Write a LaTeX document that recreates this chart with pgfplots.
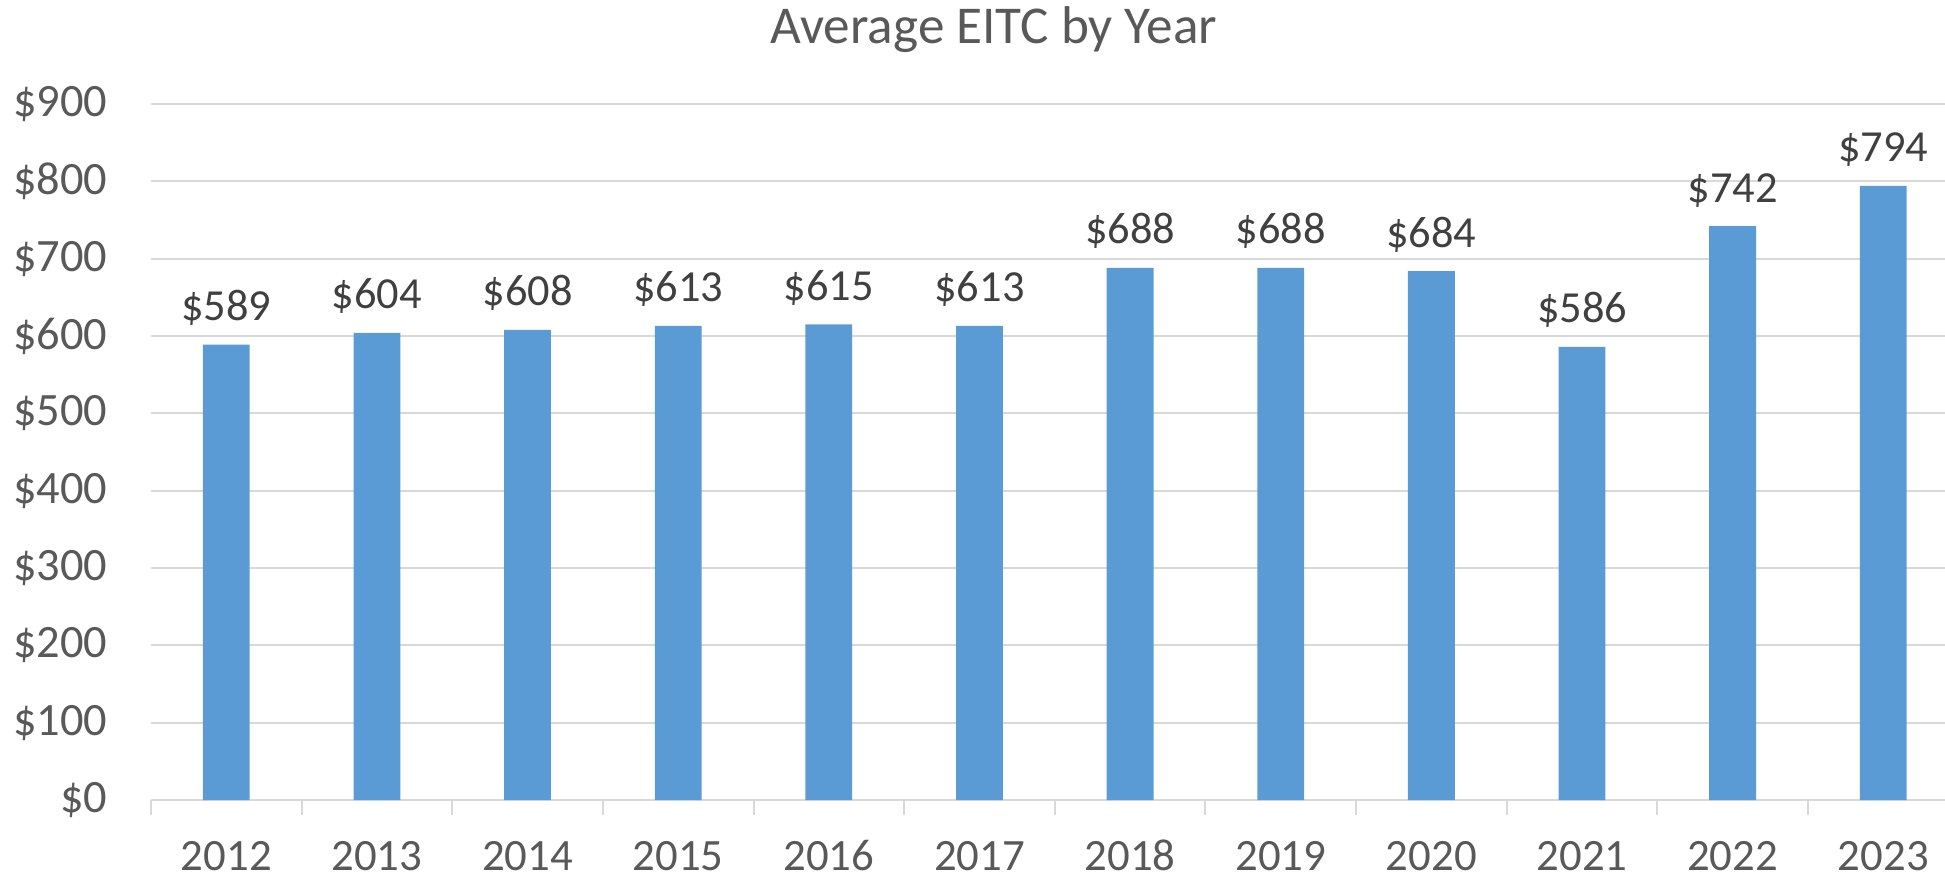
\documentclass[border=0pt]{standalone}
\usepackage{fontspec}
\setmainfont{Carlito}
\usepackage{pgfplots}
\pgfplotsset{compat=1.18}
\definecolor{barblue}{HTML}{5B9BD5}
\definecolor{gridc}{HTML}{D9D9D9}
\definecolor{ticktext}{HTML}{595959}
\definecolor{labtext}{HTML}{404040}

\begin{document}
\begin{tikzpicture}
  \path[use as bounding box] (-37.75pt,-19.5pt) rectangle (448.5pt,200pt);
  \begin{axis}[
      at={(0,0)}, anchor=south west,
      scale only axis,
      width=448.5pt, height=174pt,
      ybar, bar width=11.7pt, bar shift=0pt,
      xmin=-0.5, xmax=11.41,
      ymin=0, ymax=900,
      xtick={0,...,11},
      xticklabels={2012,2013,2014,2015,2016,2017,2018,2019,2020,2021,2022,2023},
      ytick={0,100,...,900},
      yticklabels={\$0,\$100,\$200,\$300,\$400,\$500,\$600,\$700,\$800,\$900},
      major tick length=0pt,
      tick align=outside,
      xtick pos=bottom, ytick pos=left,
      extra x ticks={-0.5,0.5,...,10.5},
      extra x tick labels={},
      extra x tick style={major tick length=3.75pt, grid=none,
        major tick style={draw=gridc, line width=0.5pt}},
      ymajorgrids,
      grid style={draw=gridc, line width=0.5pt},
      axis line style={draw=none},
      xticklabel style={anchor=base, yshift=-17.6pt, inner sep=0pt,
        font=\fontsize{11.2}{13}\selectfont, text=ticktext},
      yticklabel style={anchor=east, xshift=-10.75pt, inner sep=0pt,
        font=\fontsize{11.6}{13}\selectfont, text=ticktext},
      /pgf/number format/assume math mode=true,
      nodes near coords={\$\pgfmathprintnumber{\pgfplotspointmeta}},
      every node near coord/.append style={anchor=base, yshift=6pt, inner sep=0pt,
        font=\fontsize{11.1}{13}\selectfont, text=labtext},
    ]
    \addplot[fill=barblue, draw=none] coordinates {
      (0,589) (1,604) (2,608) (3,613) (4,615) (5,613)
      (6,688) (7,688) (8,684) (9,586) (10,742) (11,794)
    };
  \end{axis}
  % title, centred where the reference puts it
  \node[anchor=base, inner sep=0pt, font=\fontsize{13.3}{15}\selectfont, text=ticktext]
    at (210.75pt,189pt) {Average EITC by Year};
\end{tikzpicture}
\end{document}
